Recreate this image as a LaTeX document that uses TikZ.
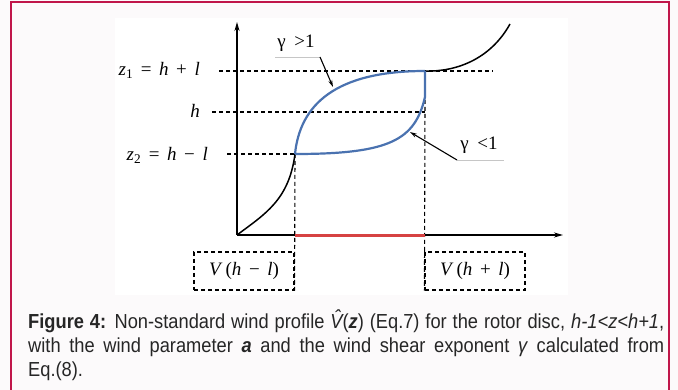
\documentclass[tikz,border=0pt]{standalone}
\usepackage{fontspec}
\setmainfont{Liberation Sans}
\newfontfamily\plotfont{Liberation Serif}
\usetikzlibrary{calc,arrows.meta,positioning}
\definecolor{framered}{RGB}{192,22,74}
\definecolor{curveblue}{RGB}{74,114,176}
\definecolor{diskred}{RGB}{214,66,66}
\definecolor{paper}{RGB}{252,250,251}
\newcommand{\gap}{\hspace{0.4em}}
\tikzset{
  axis/.style={line width=1.4pt, -{Stealth[length=9pt, width=5pt]}},
  levelline/.style={line width=1.1pt, dash pattern=on 4pt off 3pt},
  profile/.style={line width=1.5pt},
  gammacurve/.style={curveblue, line width=2.2pt},
  plotlabel/.style={font=\plotfont\fontsize{19}{22}\selectfont, inner sep=1pt},
  valuebox/.style={draw, levelline, rectangle, minimum width=100pt, minimum height=38pt, inner sep=0pt, font=\plotfont\fontsize{19}{22}\selectfont},
  pointer/.style={line width=1.1pt, -{Stealth[length=7pt, width=4pt]}},
  underline/.style={gray!45, line width=0.8pt}
}

\begin{document}
\begin{tikzpicture}[x=1pt, y=-1pt]
  \useasboundingbox (0,0) rectangle (678,390);
  % page and panel
  \fill[paper] (0,0) rectangle (678,390);
  \fill[white] (115,18) rectangle (568,295);
  \draw[framered, line width=2pt] (11,395) -- (11,2) -- (669,2) -- (669,395);

  % axes
  \coordinate (origin) at (237,235);
  \coordinate (ytip) at (237,22);
  \coordinate (xtip) at (563,235);
  \draw[axis] (origin) -- (ytip);
  \draw[axis] (origin) -- (xtip);

  % heights on the profile
  \coordinate (zlow) at (295,154);
  \coordinate (zhigh) at (425,71);
  \coordinate (zmid) at (425,97);

  % level labels
  \node[plotlabel, anchor=east] (z1lab) at (201,70) {\textit{z}\textsubscript{1}\gap=\gap\textit{h}\gap+\gap\textit{l}};
  \node[plotlabel, anchor=east] (hlab) at (201,111) {\textit{h}};
  \node[plotlabel, anchor=east] (z2lab) at (209,155) {\textit{z}\textsubscript{2}\gap=\gap\textit{h}\gap−\gap\textit{l}};

  \draw[levelline] (219,71) -- (493,71);
  \draw[levelline] (212,112) -- (425,112);
  \draw[levelline] (227,154) -- (zlow);

  % value boxes on the speed axis
  \node[valuebox] (lowbox) at (244,271) {\textit{V}\,(\textit{h}\gap−\gap\textit{l})};
  \node[valuebox] (highbox) at (475,271) {\textit{V}\,(\textit{h}\gap+\gap\textit{l})};
  \draw[levelline] (zlow) -- (lowbox.south east);
  \draw[levelline] (425,100) -- (highbox.south west);

  % rotor disc range
  \draw[diskred, line width=3pt] (295,236) -- (425,236);

  % standard profile
  \draw[profile] (origin) .. controls (265,214) and (289,200) .. (zlow);
  \draw[profile] (zhigh) .. controls (455,72) and (490,60) .. (510,24);

  % non-standard profiles
  \draw[gammacurve] (zlow) .. controls (300,105) and (335,71) .. (zhigh);
  \draw[gammacurve] (zhigh) -- (zmid) .. controls (415,140) and (390,154) .. (zlow);

  % gamma labels
  \node[plotlabel] (gbig) at (296,43) {γ\hspace{0.45em}>1};
  \coordinate (gbigfoot) at (320,57);
  \draw[underline] (275,57) -- (gbigfoot);
  \draw[pointer] (gbigfoot) -- (333,87);

  \node[plotlabel] (gsmall) at (479,145) {γ\hspace{0.45em}<1};
  \coordinate (gsmallfoot) at (457,160);
  \draw[underline] (gsmallfoot) -- (504,160);
  \draw[pointer] (gsmallfoot) -- (410,132);

  % caption
  \node[anchor=north west, inner sep=0pt, text width=636pt, align=justify,
        font=\fontsize{20.3}{24}\selectfont\addfontfeature{FakeStretch=0.9}, text=black!85] (caption) at (28,310)
    {\textbf{Figure 4:} Non-standard wind profile {\itshape\^V}(\textbf{\textit{z}}) (Eq.7) for the rotor disc, \mbox{\textit{h-1<z<h+1},}\linebreak
     with the wind parameter \textbf{\textit{a}} and the wind shear exponent \textit{γ} calculated from\linebreak
     Eq.(8).};
\end{tikzpicture}
\end{document}
